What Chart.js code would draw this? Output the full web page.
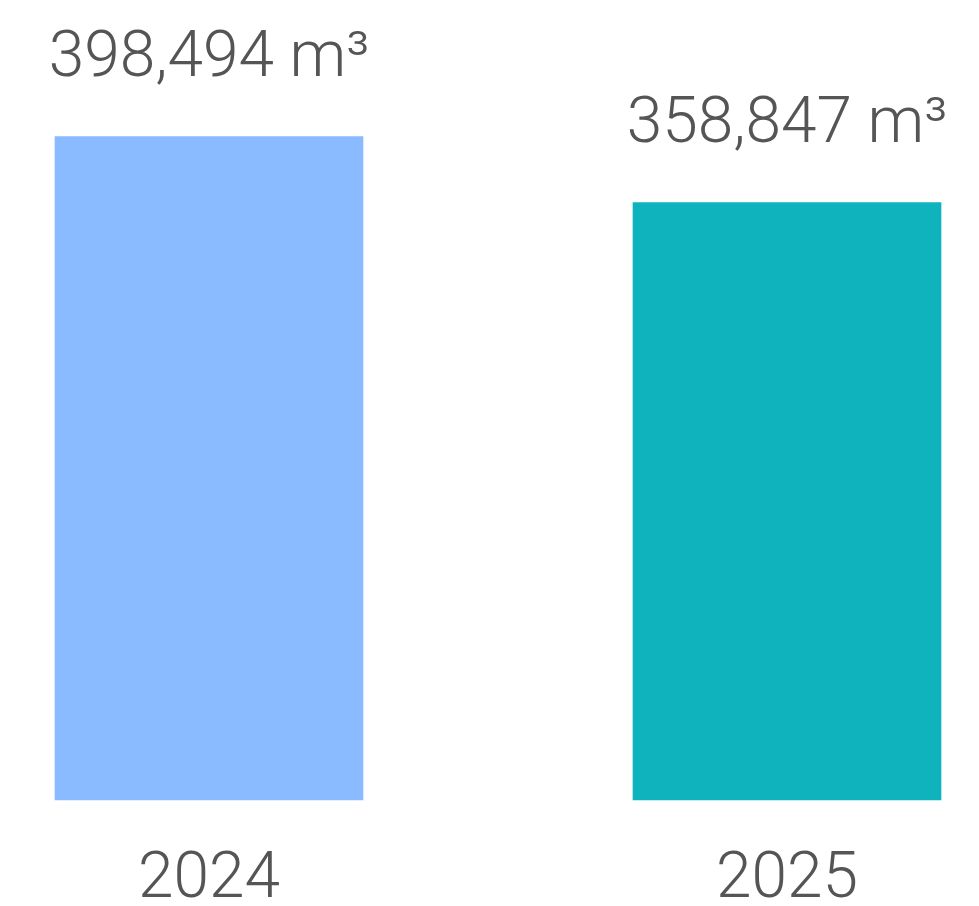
<!DOCTYPE html>
<html>
<head>
<meta charset="utf-8">
<script src="https://cdn.jsdelivr.net/npm/chart.js@4"></script>
<style>
  html, body { margin: 0; padding: 0; background: #fff; }
  canvas { display: block; }
</style>
</head>
<body>
<canvas id="volumeChart" width="979" height="906"></canvas>
<script>
const years = ['2024', '2025'];
const volumes = [398494, 358847];
const unit = 'm³';
const barColors = ['#8abaff', '#0fb3bd'];

const textColor = '#555555';
const fontFamily = 'Roboto, "DejaVu Sans", sans-serif';

// value label above each bar
const valueLabels = {
    id: 'valueLabels',
    afterDatasetsDraw(chart) {
        const ctx = chart.ctx;
        const meta = chart.getDatasetMeta(0);
        ctx.save();
        ctx.font = '300 64px ' + fontFamily;
        ctx.fillStyle = textColor;
        ctx.textAlign = 'center';
        ctx.textBaseline = 'alphabetic';
        meta.data.forEach((bar, i) => {
            const txt = volumes[i].toLocaleString('en-US') + ' ' + unit;
            ctx.fillText(txt, bar.x, bar.y - 61);
        });
        ctx.restore();
    }
};

const volumeChart = new Chart(document.getElementById('volumeChart').getContext('2d'), {
    type: 'bar',
    data: {
        labels: years,
        datasets: [{
            data: volumes,
            backgroundColor: barColors,
            borderWidth: 0,
            barThickness: 308,
            clip: false
        }]
    },
    options: {
        responsive: false,
        animation: false,
        layout: {
            padding: { top: 1, left: 209, right: 192, bottom: 0 }
        },
        plugins: {
            legend: { display: false },
            tooltip: { enabled: false }
        },
        scales: {
            x: {
                offset: false,
                grid: { display: false },
                border: { display: false },
                ticks: {
                    color: textColor,
                    padding: 35,
                    maxRotation: 0,
                    font: { family: fontFamily, size: 64, weight: '300' }
                },
                afterFit(scale) {
                    scale.height = 106;
                }
            },
            y: {
                display: false,
                min: 0,
                max: 480000
            }
        }
    },
    plugins: [valueLabels]
});
</script>
</body>
</html>
